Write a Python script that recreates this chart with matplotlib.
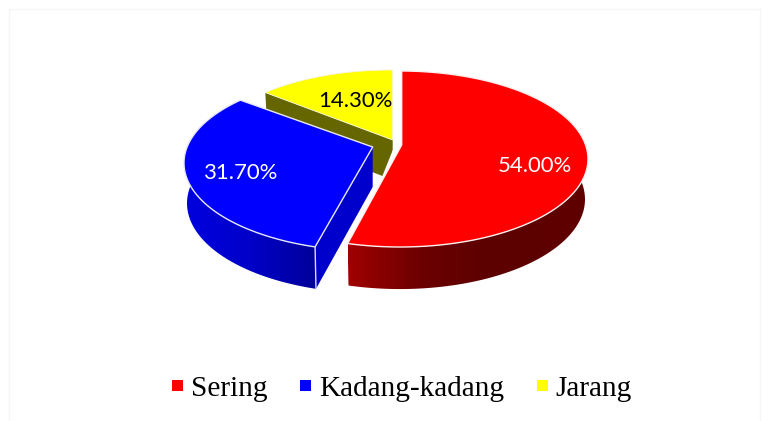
import numpy as np
import matplotlib
matplotlib.use('Agg')
import matplotlib.pyplot as plt
from matplotlib.colors import LinearSegmentedColormap
from matplotlib.patches import Patch, Polygon, Rectangle

categories = ['Sering', 'Kadang-kadang', 'Jarang']
values = [54.0, 31.7, 14.3]
colors = ['#ff0000', '#0000ff', '#ffff00']

# where each slice sits in the picture (pixels): ellipse centre and apex
centres = [(400, 159), (372, 163), (391, 158)]
apexes = [(401.7, 145), (372.7, 147), (392.7, 140)]
tilts = [0.468, 0.445, 0.468]
label_pos = [(535, 166), (241, 173), (355, 101)]
label_colors = ['white', 'white', 'black']
rx, ry = 188, 88
depth = 40.3


def rim_point(theta, centre, apex, tilt):
    # follow the tilted radius from the apex until it meets the ellipse
    dx, dy = np.sin(theta), -tilt * np.cos(theta)
    ox, oy = apex[0] - centre[0], apex[1] - centre[1]
    a = (dx / rx) ** 2 + (dy / ry) ** 2
    b = 2 * (ox * dx / rx ** 2 + oy * dy / ry ** 2)
    c = (ox / rx) ** 2 + (oy / ry) ** 2 - 1
    t = (-b + np.sqrt(b ** 2 - 4 * a * c)) / (2 * a)
    return apex[0] + t * dx, apex[1] + t * dy


def lower(points, centre):
    # same outline on the underside of the slice
    pts = np.array(points, dtype=float)
    x = centre[0] + (pts[:, 0] - centre[0]) * 0.984
    y = centre[1] + depth + (pts[:, 1] - centre[1]) * 1.02
    return np.column_stack([x, y])


def gradient_wall(ax, outline, stops):
    poly = Polygon(outline, closed=True, fc='none', ec='none')
    ax.add_patch(poly)
    xs = np.array(outline)[:, 0]
    cmap = LinearSegmentedColormap.from_list('wall', stops)
    img = ax.imshow(np.linspace(0, 1, 256).reshape(1, -1), cmap=cmap, aspect='auto',
                    extent=(xs.min(), xs.max(), 421, 0), zorder=poly.get_zorder())
    img.set_clip_path(poly)


fig = plt.figure(figsize=(7.71, 4.21), dpi=100)
ax = fig.add_axes([0, 0, 1, 1])
ax.set_axis_off()

ax.add_patch(Rectangle((9, 9), 751, 430, fc='white', ec='#f6f6f6', lw=1))

edges = np.cumsum([0] + values) / 100 * 2 * np.pi
arcs = []
for i in range(3):
    thetas = np.linspace(edges[i], edges[i + 1], 200)
    arcs.append([rim_point(t, centres[i], apexes[i], tilts[i]) for t in thetas])

# yellow slice first, it sits at the back
yc, yp, yarc = centres[2], apexes[2], arcs[2]
wall = np.vstack([[yp], [yarc[0]], lower([yarc[0]], yc), lower([yp], yc)])
ax.add_patch(Polygon(wall, closed=True, fc='#666600', ec='none'))
ax.add_patch(Polygon([yp] + yarc, closed=True, fc=colors[2], ec='#f4f4e0', lw=0.6))
ax.add_patch(Polygon([(393.2, 149), (380, 182), (393.2, 190)], closed=True, fc='white', ec='none'))

# blue slice
bc, bp, barc = centres[1], apexes[1], arcs[1]
gradient_wall(ax, np.vstack([barc, lower(barc, bc)[::-1]]), ['#0000e0', '#0000c8', '#00009a'])
side = np.vstack([[bp], [barc[0]], lower([barc[0]], bc), lower([bp], bc)])
ax.add_patch(Polygon(side, closed=True, fc='#0000cc', ec='none'))
ax.plot(*zip(barc[0], lower([barc[0]], bc)[0]), color='#d8d8f0', lw=1)
ax.add_patch(Polygon([bp] + barc, closed=True, fc=colors[1], ec='#e8e8f8', lw=1))

# red slice
rc, rp, rarc = centres[0], apexes[0], arcs[0]
gradient_wall(ax, np.vstack([rarc, lower(rarc, rc)[::-1]]),
              [(0, '#a00000'), (0.3, '#6c0000'), (0.6, '#5c0000'), (1, '#600000')])
ax.add_patch(Polygon([rp] + rarc, closed=True, fc=colors[0], ec='#fff0f0', lw=1))

for i in range(3):
    ax.text(label_pos[i][0], label_pos[i][1], f'{values[i]:.2f}%', color=label_colors[i],
            family='Lato', fontsize=15.9, ha='center', va='center')

handles = [Patch(fc=c, ec='none') for c in colors]
ax.legend(handles, categories, ncol=3, loc='center', bbox_to_anchor=(402, 389),
          bbox_transform=ax.transData, frameon=False,
          prop={'family': 'Liberation Serif', 'size': 21.1},
          handlelength=0.38, handleheight=0.18, handletextpad=0.28, columnspacing=1.1,
          borderpad=0, borderaxespad=0)

ax.set_xlim(0, 771)
ax.set_ylim(421, 0)
fig.savefig('out.png', dpi=100)
